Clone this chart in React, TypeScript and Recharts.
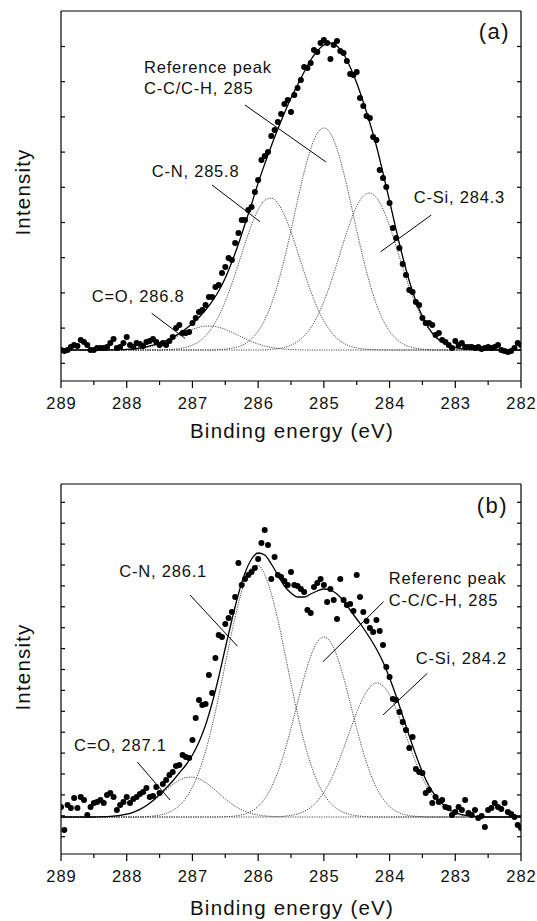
import React from 'react';
import { ComposedChart, Line, Scatter, XAxis, YAxis, ReferenceLine, ReferenceDot, Label } from 'recharts';

const FONT = '"Liberation Sans", Arial, Helvetica, sans-serif';
const INK = '#111';

// scan grid of the measured points and the grid the fitted curves are sampled on (eV)
const SCAN_STEP = 0.05;
const FIT_STEP = 0.1;
const scanEnergy = Array.from({ length: 141 }, (_, i) => Math.round((289 - i * SCAN_STEP) * 100) / 100);
const fitEnergy = Array.from({ length: 71 }, (_, i) => Math.round((289 - i * FIT_STEP) * 100) / 100);

const xTicks = [289, 288.5, 288, 287.5, 287, 286.5, 286, 285.5, 285, 284.5, 284, 283.5, 283, 282.5, 282];
const yTicksA = [-13.3, 21.9, 57.1, 92.3, 127.5, 162.7, 197.9, 233.1, 268.3, 303.5];
const yTicksB = [-19.7, 1.2, 22.1, 43, 63.9, 84.8, 105.7, 126.6, 147.5, 168.4, 189.3, 210.2, 231.1, 252, 272.9, 293.8, 314.7];

// ---- panel (a) ----
const dotsA = [
  0, -1, 0, 3, 5, 4, 10, 8, 5, 0,
  0, 2, 2, 2, 3, 7, 11, 2, 3, 7,
  13, 5, 3, 7, 6, 4, 8, 9, 11, 8,
  5, 7, 5, 9, 13, 22, 25, 17, 17, 18,
  27, 32, 38, 40, 45, 53, 53, 63, 65, 77,
  83, 92, 90, 107, 117, 130, 130, 140, 143, 158,
  170, 190, 194, 198, 214, 220, 228, 236, 246, 250,
  238, 255, 262, 270, 283, 282, 287, 300, 298, 307,
  310, 307, 291, 305, 309, 299, 297, 289, 276, 275,
  278, 252, 244, 234, 232, 213, 210, 180, 172, 163,
  147, 122, 112, 102, 86, 75, 60, 58, 48, 45,
  32, 27, 27, 25, 15, 17, 10, 8, 5, 2,
  9, 5, 7, 3, 3, 3, 2, 3, 1, 2,
  3, 2, 3, 5, 0, -1, -2, -1, 2, 7,
  5,
];
const envelopeA = [
  0, 0, 0, 0, 0, 0, 0, 0, 0.2, 0.4,
  0.7, 1.2, 2.0, 3.2, 4.8, 6.8, 9.3, 12.6, 16.6, 21.2,
  26.5, 32.8, 40.0, 48.6, 59.0, 72.0, 88.0, 106, 126, 146,
  167, 186, 204, 221, 237, 252, 265, 278, 290, 299,
  305, 307, 304, 296, 283, 267, 248, 227, 204, 177,
  149, 120, 93, 69, 49, 33.5, 21.5, 13.3, 8.0, 4.5,
  2.5, 1.3, 0.6, 0.3, 0, 0, 0, 0, 0, 0,
  0,
];
const coA = [
  0, 0, 0, 0, 0, 0, 0, 0, 0, 0.2,
  0.5, 0.9, 1.6, 2.6, 4.0, 6.0, 8.4, 11.4, 14.6, 17.7,
  20.6, 22.7, 23.9, 23.9, 22.7, 20.6, 17.7, 14.6, 11.4, 8.4,
  6.0, 4.0, 2.6, 1.6, 0.9, 0.5, 0.2, 0, 0, 0,
  0, 0, 0, 0, 0, 0, 0, 0, 0, 0,
  0, 0, 0, 0, 0, 0, 0, 0, 0, 0,
  0, 0, 0, 0, 0, 0, 0, 0, 0, 0,
  0,
];
const cnA = [
  0, 0, 0, 0, 0, 0, 0, 0, 0, 0,
  0, 0, 0, 0, 0, 0, 0.3, 0.7, 1.4, 2.7,
  4.9, 8.5, 14.2, 22.5, 33.9, 48.5, 66.3, 86.0, 106.4, 125.2,
  140.3, 149.6, 151.8, 146.7, 134.8, 118.1, 98.3, 78.0, 58.8, 42.3,
  28.9, 18.8, 11.6, 6.9, 3.8, 2.1, 1.0, 0.5, 0.2, 0,
  0, 0, 0, 0, 0, 0, 0, 0, 0, 0,
  0, 0, 0, 0, 0, 0, 0, 0, 0, 0,
  0,
];
const ccA = [
  0, 0, 0, 0, 0, 0, 0, 0, 0, 0,
  0, 0, 0, 0, 0, 0, 0, 0, 0, 0,
  0, 0, 0, 0, 0.4, 0.9, 1.8, 3.4, 6.3, 11.2,
  18.8, 30.0, 45.7, 66.2, 91.2, 119.7, 149.6, 177.8, 201.1, 216.7,
  222, 216.7, 201.1, 177.8, 149.6, 119.7, 91.2, 66.2, 45.7, 30.0,
  18.8, 11.2, 6.3, 3.4, 1.8, 0.9, 0.4, 0, 0, 0,
  0, 0, 0, 0, 0, 0, 0, 0, 0, 0,
  0,
];
const csiA = [
  0, 0, 0, 0, 0, 0, 0, 0, 0, 0,
  0, 0, 0, 0, 0, 0, 0, 0, 0, 0,
  0, 0, 0, 0, 0, 0, 0, 0, 0, 0,
  0, 0, 0.7, 1.3, 2.6, 4.8, 8.4, 14.0, 22.1, 33.6,
  48.5, 66.4, 86.8, 107.9, 127.5, 143.7, 153.9, 157.0, 152.4, 140.8,
  123.9, 103.6, 82.6, 62.6, 45.2, 31.1, 20.3, 12.7, 7.5, 4.2,
  2.3, 1.2, 0.6, 0.3, 0, 0, 0, 0, 0, 0,
  0,
];

// ---- panel (b) ----
const dotsB = [
  10, -13, 12, 9, 19, 9, 20, 17, 2, 10,
  14, 15, 17, 14, 22, 24, 20, 7, 12, 15,
  20, 14, 18, 20, 23, 25, 29, 20, 21, 30,
  24, 33, 37, 42, 45, 51, 52, 62, 60, 59,
  77, 99, 117, 112, 113, 142, 124, 159, 182, 180,
  193, 199, 205, 220, 254, 232, 238, 242, 245, 249,
  258, 274, 287, 272, 238, 260, 242, 240, 236, 232,
  245, 232, 231, 228, 225, 207, 204, 230, 234, 238,
  232, 215, 228, 217, 198, 238, 217, 212, 213, 206,
  242, 220, 205, 196, 189, 185, 197, 186, 172, 150,
  140, 118, 117, 105, 95, 87, 69, 80, 48, 45,
  44, 24, 27, 14, 20, 15, 17, 10, 9, 2,
  5, 10, 7, 17, 4, 2, 7, -1, 1, -10,
  7, 9, 14, 10, 8, 14, 5, 3, 0, -8,
  -11,
];
const envelopeB = [
  0, 0, 0, 0, 0, 0, 0.2, 0.4, 0.8, 1.6,
  2.8, 4.7, 7.6, 11.5, 16.5, 22.5, 29, 36, 44, 52,
  62, 75, 92, 114, 140, 169, 197, 223, 244, 258,
  264, 262, 253, 242, 231, 224, 220, 220, 223, 226,
  228, 227, 223, 216, 207, 198, 189, 179, 168, 155,
  139, 121, 101, 81, 62, 45, 31, 21, 13.5, 8,
  4.5, 2.3, 1.2, 0.5, 0, 0, 0, 0, 0, 0,
  0,
];
const coB = [
  0, 0, 0, 0, 0, 0, 0.2, 0.4, 0.8, 1.6,
  2.8, 4.7, 7.4, 11.2, 15.9, 21.4, 27.1, 32.5, 36.8, 39.4,
  39.9, 38.1, 34.4, 29.4, 23.7, 18.0, 13.0, 8.8, 5.7, 3.4,
  2.0, 1.1, 0.6, 0.3, 0, 0, 0, 0, 0, 0,
  0, 0, 0, 0, 0, 0, 0, 0, 0, 0,
  0, 0, 0, 0, 0, 0, 0, 0, 0, 0,
  0, 0, 0, 0, 0, 0, 0, 0, 0, 0,
  0,
];
const cnB = [
  0, 0, 0, 0, 0, 0, 0, 0, 0, 0,
  0, 0, 0, 0.5, 1.0, 1.9, 3.6, 6.6, 11.4, 18.9,
  30.0, 45.4, 65.8, 91.2, 120.7, 153.0, 185.0, 213.7, 236.1, 249.2,
  251.5, 242.4, 223.5, 197.1, 165.8, 133.6, 102.6, 75.3, 52.9, 35.5,
  22.8, 14.0, 8.2, 4.6, 2.5, 1.3, 0.6, 0, 0, 0,
  0, 0, 0, 0, 0, 0, 0, 0, 0, 0,
  0, 0, 0, 0, 0, 0, 0, 0, 0, 0,
  0,
];
const ccB = [
  0, 0, 0, 0, 0, 0, 0, 0, 0, 0,
  0, 0, 0, 0, 0, 0, 0, 0, 0, 0,
  0, 0, 0, 0, 0, 0.3, 0.7, 1.5, 3.0, 5.8,
  10.6, 18.2, 29.3, 44.8, 64.8, 88.6, 114.3, 139.5, 160.7, 175.0,
  180, 175.0, 160.7, 139.5, 114.3, 88.6, 64.8, 44.8, 29.3, 18.2,
  10.6, 5.8, 3.0, 1.5, 0.7, 0.3, 0, 0, 0, 0,
  0, 0, 0, 0, 0, 0, 0, 0, 0, 0,
  0,
];
const csiB = [
  0, 0, 0, 0, 0, 0, 0, 0, 0, 0,
  0, 0, 0, 0, 0, 0, 0, 0, 0, 0,
  0, 0, 0, 0, 0, 0, 0, 0, 0, 0,
  0, 0, 0, 0, 0.8, 1.6, 3.1, 5.6, 9.6, 15.8,
  24.7, 36.4, 51.3, 68.5, 86.8, 104.5, 119.5, 129.8, 134.0, 131.2,
  122.1, 107.9, 90.5, 72.1, 54.5, 39.1, 26.8, 17.3, 10.7, 6.2,
  3.5, 1.8, 0.9, 0.4, 0, 0, 0, 0, 0, 0,
  0,
];

type Anno = { lines: string[]; at: [number, number]; from: [number, number]; to: [number, number] };

const annosA: Anno[] = [
  { lines: ['Reference peak', 'C-C/C-H, 285'], at: [287.737, 276.7], from: [286.2, 245], to: [284.967, 188] },
  { lines: ['C-N, 285.8'], at: [287.62, 173], from: [286.702, 165], to: [285.972, 128.3] },
  { lines: ['C-Si, 284.3'], at: [283.632, 147], from: [283.365, 135], to: [284.135, 98.3] },
  { lines: ['C=O, 286.8'], at: [288.533, 48], from: [287.62, 36.7], to: [287.113, 11.7] },
];
const annosB: Anno[] = [
  { lines: ['Referenc peak', 'C-C/C-H, 285'], at: [284.013, 233], from: [284.092, 215.3], to: [285.013, 155.3] },
  { lines: ['C-N, 286.1'], at: [288.113, 240], from: [287.037, 222], to: [286.317, 171] },
  { lines: ['C-Si, 284.2'], at: [283.602, 153], from: [283.426, 143.7], to: [284.1, 102] },
  { lines: ['C=O, 287.1'], at: [288.802, 66], from: [287.839, 55], to: [287.341, 17] },
];

const isMajor = (v: number) => Math.abs(v - Math.round(v)) < 1e-6;

const BottomTick = (props: any) => {
  const { x, y, payload } = props;
  const v = payload.value as number;
  return (
    <g>
      <line x1={x} y1={y} x2={x} y2={y + (isMajor(v) ? 7 : 4)} stroke="#000" strokeWidth={1.2} />
      {isMajor(v) && (
        <text x={x + 0.5} y={y + 27.5} textAnchor="middle" fontSize={16.5} letterSpacing={1} fontFamily={FONT} fill={INK}>
          {v}
        </text>
      )}
    </g>
  );
};

const TopTick = (props: any) => {
  const { x, y, payload } = props;
  return <line x1={x} y1={y} x2={x} y2={y + (isMajor(payload.value) ? 5 : 3)} stroke="#000" strokeWidth={1.2} />;
};

const LeftTick = (props: any) => {
  const { x, y } = props;
  return <line x1={x} y1={y} x2={x + 4} y2={y} stroke="#000" strokeWidth={1.2} />;
};

const RightTick = (props: any) => {
  const { x, y } = props;
  return <line x1={x} y1={y} x2={x - 4} y2={y} stroke="#000" strokeWidth={1.2} />;
};

interface PanelProps {
  height: number;
  bottomHeight: number;
  dots: number[];
  envelope: number[];
  peaks: number[][];
  yDomain: [number, number];
  yTicks: number[];
  annos: Anno[];
  tag: string;
  tagAt: [number, number];
  titleDy: number;
  yLabelDy: number;
  lineGap: number;
}

const Panel: React.FC<PanelProps> = ({ height, bottomHeight, dots, envelope, peaks, yDomain, yTicks, annos, tag, tagAt, titleDy, yLabelDy, lineGap }) => {
  const fit = fitEnergy.map((e, i) => ({ e, env: envelope[i], p0: peaks[0][i], p1: peaks[1][i], p2: peaks[2][i], p3: peaks[3][i] }));
  const scan = scanEnergy.map((e, i) => ({ e, v: dots[i] }));
  const axisLine = { stroke: '#000', strokeWidth: 1.2 };

  return (
    <ComposedChart width={537} height={height} data={fit} margin={{ top: 10, right: 15, bottom: 0, left: 0 }}>
      <XAxis
        dataKey="e" type="number" domain={[282, 289]} reversed allowDataOverflow
        ticks={xTicks} interval={0} height={bottomHeight} tickSize={0} tickMargin={0}
        tickLine={false} tick={BottomTick} axisLine={axisLine}
      >
        <Label
          content={(p: any) => {
            const vb = p.viewBox || { x: 61, y: 381, width: 460 };
            return (
              <text x={vb.x + vb.width / 2 + 1} y={vb.y + titleDy} textAnchor="middle" fontSize={20.5} letterSpacing={1.2} fontFamily={FONT} fill={INK}>
                Binding energy (eV)
              </text>
            );
          }}
        />
      </XAxis>
      <XAxis
        xAxisId="t" orientation="top" type="number" domain={[282, 289]} reversed allowDataOverflow
        ticks={xTicks} interval={0} height={1} tickSize={0} tickMargin={0}
        tickLine={false} tick={TopTick} axisLine={axisLine}
      />
      <YAxis
        type="number" domain={yDomain} allowDataOverflow ticks={yTicks} interval={0}
        width={61} tickSize={0} tickMargin={0} tickLine={false} tick={LeftTick} axisLine={axisLine}
      >
        <Label
          content={(p: any) => {
            const vb = p.viewBox || { x: 0, y: 11, width: 61, height: 370 };
            const cx = 30;
            const cy = vb.y + vb.height / 2 + yLabelDy;
            return (
              <text x={cx} y={cy} transform={`rotate(-90 ${cx} ${cy})`} textAnchor="middle" fontSize={20.5} letterSpacing={1.2} fontFamily={FONT} fill={INK}>
                Intensity
              </text>
            );
          }}
        />
      </YAxis>
      <YAxis
        yAxisId="r" orientation="right" type="number" domain={yDomain} allowDataOverflow ticks={yTicks} interval={0}
        width={1} tickSize={0} tickMargin={0} tickLine={false} tick={RightTick} axisLine={axisLine}
      />

      {['p0', 'p1', 'p2', 'p3'].map((k) => (
        <Line key={k} dataKey={k} type="monotone" dot={false} activeDot={false} stroke="#333" strokeWidth={0.9} strokeDasharray="1.2 1.2" isAnimationActive={false} />
      ))}
      <Line dataKey="env" type="monotone" dot={false} activeDot={false} stroke="#000" strokeWidth={1.3} isAnimationActive={false} />
      <Scatter
        data={scan} dataKey="v" isAnimationActive={false}
        shape={(p: any) => <circle cx={p.cx} cy={p.cy} r={3} fill="#000" />}
      />

      {annos.map((a, i) => (
        <ReferenceLine
          key={`l${i}`}
          segment={[{ x: a.from[0], y: a.from[1] }, { x: a.to[0], y: a.to[1] }]}
          stroke="#000" strokeWidth={1}
        />
      ))}
      {annos.map((a, i) => (
        <ReferenceDot
          key={`t${i}`} x={a.at[0]} y={a.at[1]} r={0}
          shape={(p: any) => (
            <text x={p.cx} y={p.cy} fontSize={16.5} letterSpacing={0.8} fontFamily={FONT} fill={INK}>
              {a.lines.map((ln, j) => (
                <tspan key={j} x={p.cx} dy={j === 0 ? 0 : lineGap}>{ln}</tspan>
              ))}
            </text>
          )}
        />
      ))}
      <ReferenceDot
        x={tagAt[0]} y={tagAt[1]} r={0}
        shape={(p: any) => (
          <text x={p.cx} y={p.cy} textAnchor="end" fontSize={22} letterSpacing={1.5} fontFamily={FONT} fill={INK}>
            {tag}
          </text>
        )}
      />
    </ComposedChart>
  );
};

export default function App() {
  return (
    <div style={{ position: 'absolute', left: 0, top: 0, width: 537, height: 921, background: '#fff', overflow: 'hidden' }}>
      <Panel
        height={460} bottomHeight={79} dots={dotsA} envelope={envelopeA} peaks={[coA, cnA, ccA, csiA]}
        yDomain={[-31, 339]} yTicks={yTicksA} annos={annosA} tag="(a)" tagAt={[282.167, 311]}
        titleDy={57} yLabelDy={-4} lineGap={20.5}
      />
      <div style={{ position: 'absolute', left: 0, top: 473 }}>
        <Panel
          height={448} bottomHeight={67} dots={dotsB} envelope={envelopeB} peaks={[coB, cnB, ccB, csiB]}
          yDomain={[-37, 333]} yTicks={yTicksB} annos={annosB} tag="(b)" tagAt={[282.197, 304]}
          titleDy={61} yLabelDy={-2} lineGap={22}
        />
      </div>
    </div>
  );
}
